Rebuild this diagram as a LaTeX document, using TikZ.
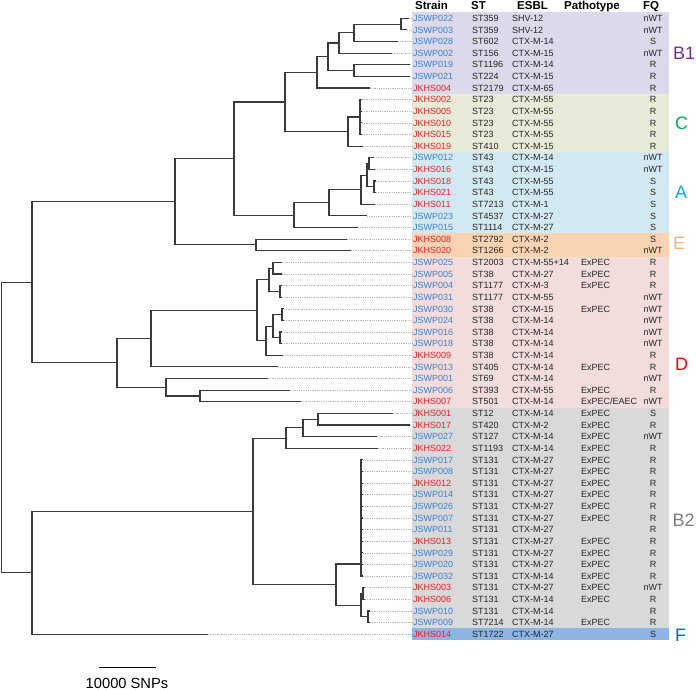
\documentclass[tikz,border=0pt]{standalone}
\usepackage{fontspec}
\setmainfont{Liberation Sans}
\usetikzlibrary{calc}
\definecolor{treec}{HTML}{3A3A3A}
\definecolor{txt}{HTML}{262626}
\definecolor{sb}{HTML}{3F80D0}
\definecolor{sr}{HTML}{E8222A}
\definecolor{bandB1}{HTML}{DCD9EA}
\definecolor{bandC}{HTML}{E7EBD8}
\definecolor{bandA}{HTML}{D3E9F2}
\definecolor{bandE}{HTML}{FAD3B1}
\definecolor{bandD}{HTML}{F3DCDC}
\definecolor{bandB2}{HTML}{D9D9D9}
\definecolor{bandF}{HTML}{8EB4E3}
\definecolor{cB1}{HTML}{7030A0}
\definecolor{cC}{HTML}{00B050}
\definecolor{cA}{HTML}{00B0F0}
\definecolor{cE}{HTML}{F4B183}
\definecolor{cD}{HTML}{FF0000}
\definecolor{cB2}{HTML}{7F7F7F}
\definecolor{cF}{HTML}{0070C0}
\tikzset{
  tree/.style={draw=treec, line width=1.15pt},
  guide/.style={draw=gray!55, line width=0.6pt, dash pattern=on 0.9pt off 0.9pt},
  cell/.style={inner sep=0pt, anchor=base west, font=\fontsize{9}{9}\selectfont, text=txt},
  fqcell/.style={inner sep=0pt, anchor=base, font=\fontsize{9}{9}\selectfont, text=txt},
  head/.style={inner sep=0pt, anchor=base west, font=\fontsize{11.5}{11.5}\selectfont\bfseries, text=black},
  clade/.style={inner sep=0pt, anchor=west, font=\fontsize{18}{18}\selectfont},
}
\newcommand{\tnode}[4]{\path let \p1=($(#3)!0.5!(#4)$) in coordinate (#1) at (#2pt,\y1);}
\begin{document}
\begin{tikzpicture}[x=1pt,y=-1pt]
\path[fill=white] (0,0) rectangle (696,690);
\useasboundingbox (0,0) rectangle (696,690);
% bands
\fill[bandB1] (411.7,12.49) rectangle (669.3,93.83);
\fill[bandC]  (411.7,93.83) rectangle (669.3,151.93);
\fill[bandA]  (411.7,151.93) rectangle (669.3,233.27);
\fill[bandE]  (411.7,233.27) rectangle (669.3,256.51);
\fill[bandD]  (411.7,256.51) rectangle (669.3,407.57);
\fill[bandB2] (411.7,407.57) rectangle (669.3,628.35);
\fill[bandF]  (411.7,628.35) rectangle (669.3,639.97);
% headers
\node[head] (hStrain) at (415,9.5) {Strain};
\node[head] (hST) at (471,9.5) {ST};
\node[head] (hESBL) at (517,9.5) {ESBL};
\node[head] (hPath) at (564,9.5) {Pathotype};
\node[head] (hFQ) at (643,9.5) {FQ};
\coordinate (gx) at (411.7,0);
% rows
\foreach \i/\lx/\s/\sc/\st/\es/\pa/\fq in {
0/409/JSWP022/sb/ST359/SHV-12//nWT,
1/407/JSWP003/sb/ST359/SHV-12//nWT,
2/398/JSWP028/sb/ST602/CTX-M-14//S,
3/392/JSWP002/sb/ST156/CTX-M-15//nWT,
4/410/JSWP019/sb/ST1196/CTX-M-14//R,
5/410/JSWP021/sb/ST224/CTX-M-15//R,
6/370/JKHS004/sr/ST2179/CTX-M-65//R,
7/362/JKHS002/sr/ST23/CTX-M-55//R,
8/362/JKHS005/sr/ST23/CTX-M-55//R,
9/362/JKHS010/sr/ST23/CTX-M-55//R,
10/362/JKHS015/sr/ST23/CTX-M-55//R,
11/363/JKHS019/sr/ST410/CTX-M-15//R,
12/374/JSWP012/sb/ST43/CTX-M-14//nWT,
13/375/JKHS016/sr/ST43/CTX-M-15//nWT,
14/376/JKHS018/sr/ST43/CTX-M-55//S,
15/376/JKHS021/sr/ST43/CTX-M-55//S,
16/375/JKHS011/sr/ST7213/CTX-M-1//S,
17/367/JSWP023/sb/ST4537/CTX-M-27//S,
18/358/JSWP015/sb/ST1114/CTX-M-27//S,
19/347/JKHS008/sr/ST2792/CTX-M-2//S,
20/351/JKHS020/sr/ST1266/CTX-M-2//nWT,
21/282/JSWP025/sb/ST2003/CTX-M-55+14/ExPEC/R,
22/282/JSWP005/sb/ST38/CTX-M-27/ExPEC/R,
23/282/JSWP004/sb/ST1177/CTX-M-3/ExPEC/R,
24/282/JSWP031/sb/ST1177/CTX-M-55//nWT,
25/284/JSWP030/sb/ST38/CTX-M-15/ExPEC/nWT,
26/284/JSWP024/sb/ST38/CTX-M-14//nWT,
27/282/JSWP016/sb/ST38/CTX-M-14//nWT,
28/282/JSWP018/sb/ST38/CTX-M-14//nWT,
29/283/JKHS009/sr/ST38/CTX-M-14//R,
30/278/JSWP013/sb/ST405/CTX-M-14/ExPEC/R,
31/268/JSWP001/sb/ST69/CTX-M-14//nWT,
32/290/JSWP006/sb/ST393/CTX-M-55/ExPEC/R,
33/301/JKHS007/sr/ST501/CTX-M-14/{ExPEC/EAEC}/nWT,
34/393/JKHS001/sr/ST12/CTX-M-14/ExPEC/S,
35/410/JKHS017/sr/ST420/CTX-M-2/ExPEC/R,
36/377/JSWP027/sb/ST127/CTX-M-14/ExPEC/nWT,
37/378/JKHS022/sr/ST1193/CTX-M-14/ExPEC/R,
38/363/JSWP017/sb/ST131/CTX-M-27/ExPEC/R,
39/363/JSWP008/sb/ST131/CTX-M-27/ExPEC/R,
40/363/JKHS012/sr/ST131/CTX-M-27/ExPEC/R,
41/363/JSWP014/sb/ST131/CTX-M-27/ExPEC/R,
42/363/JSWP026/sb/ST131/CTX-M-27/ExPEC/R,
43/363/JSWP007/sb/ST131/CTX-M-27/ExPEC/R,
44/363/JSWP011/sb/ST131/CTX-M-27//R,
45/363/JKHS013/sr/ST131/CTX-M-27/ExPEC/R,
46/363/JSWP029/sb/ST131/CTX-M-27/ExPEC/R,
47/363/JSWP020/sb/ST131/CTX-M-27/ExPEC/R,
48/363/JSWP032/sb/ST131/CTX-M-14/ExPEC/R,
49/365/JKHS003/sr/ST131/CTX-M-27/ExPEC/nWT,
50/365/JKHS006/sr/ST131/CTX-M-14/ExPEC/R,
51/370/JSWP010/sb/ST131/CTX-M-14//R,
52/370/JSWP009/sb/ST7214/CTX-M-14/ExPEC/R,
53/208/JKHS014/sr/ST1722/CTX-M-27//S}{
  \pgfmathsetmacro\yy{18.3+11.62*\i}
  \coordinate (L\i) at (\lx,\yy);
  \draw[guide] (L\i) -- (L\i -| gx);
  \node[cell,text=\sc] (s\i) at (413,\yy+3.2) {\s};
  \node[cell] (t\i) at (472,\yy+3.2) {\st};
  \node[cell] (e\i) at (512,\yy+3.2) {\es};
  \node[cell] (p\i) at (581,\yy+3.2) {\pa};
  \node[fqcell] (f\i) at (653,\yy+3.2) {\fq};
}
% internal tree nodes
\tnode{nB1a}{401}{L0}{L1}
\tnode{nB1b}{354}{nB1a}{L2}
\tnode{nB1c}{339}{nB1b}{L3}
\tnode{nB1d}{354}{L4}{L5}
\tnode{nB1e}{328}{nB1c}{nB1d}
\tnode{nB1}{317}{nB1e}{L6}
\tnode{nC1}{360}{L7}{L10}
\tnode{nC}{348}{nC1}{L11}
\tnode{nBC}{285}{nB1}{nC}
\tnode{nA1}{369}{L12}{L13}
\tnode{nA2}{374}{L14}{L15}
\tnode{nA3}{367}{nA1}{nA2}
\tnode{nA4}{361}{nA3}{L16}
\tnode{nA5}{329}{nA4}{L17}
\tnode{nA}{294}{nA5}{L18}
\tnode{nX3}{234}{nBC}{nA}
\tnode{nE}{256}{L19}{L20}
\tnode{nX2}{175}{nX3}{nE}
\tnode{nD1}{273}{L21}{L22}
\tnode{nD2}{280}{L23}{L24}
\tnode{nD3}{269}{nD1}{nD2}
\tnode{nD4}{282}{L25}{L26}
\tnode{nD5}{280}{L27}{L28}
\tnode{nD6}{273}{nD4}{nD5}
\tnode{nD7}{266}{nD6}{L29}
\tnode{nD8}{257}{nD3}{nD7}
\tnode{nD9}{151}{nD8}{L30}
\tnode{nD10}{200}{L32}{L33}
\tnode{nD11}{166}{L31}{nD10}
\tnode{nD}{117}{nD9}{nD11}
\tnode{nX1}{32}{nX2}{nD}
\tnode{nB2a}{318}{L34}{L35}
\tnode{nB2b}{303}{nB2a}{L36}
\tnode{nB2c}{286}{nB2b}{L37}
\coordinate (nST) at (361,564);
\tnode{nB2d}{363}{L49}{L50}
\tnode{nB2e}{368}{L51}{L52}
\tnode{nB2f}{361}{nB2d}{nB2e}
\tnode{nB2g}{336}{nST}{nB2f}
\tnode{nB2}{253}{nB2c}{nB2g}
\tnode{nY}{32}{nB2}{L53}
\tnode{nR}{1.5}{nX1}{nY}
% edges
\foreach \p/\c in {nB1a/L0,nB1a/L1,nB1b/nB1a,nB1b/L2,nB1c/nB1b,nB1c/L3,
  nB1d/L4,nB1d/L5,nB1e/nB1c,nB1e/nB1d,nB1/nB1e,nB1/L6,
  nC1/L7,nC1/L8,nC1/L9,nC1/L10,nC/nC1,nC/L11,nBC/nB1,nBC/nC,
  nA1/L12,nA1/L13,nA2/L14,nA2/L15,nA3/nA1,nA3/nA2,nA4/nA3,nA4/L16,
  nA5/nA4,nA5/L17,nA/nA5,nA/L18,nX3/nBC,nX3/nA,nE/L19,nE/L20,
  nX2/nX3,nX2/nE,
  nD1/L21,nD1/L22,nD2/L23,nD2/L24,nD3/nD1,nD3/nD2,nD4/L25,nD4/L26,
  nD5/L27,nD5/L28,nD6/nD4,nD6/nD5,nD7/nD6,nD7/L29,nD8/nD3,nD8/nD7,
  nD9/nD8,nD9/L30,nD10/L32,nD10/L33,nD11/L31,nD11/nD10,nD/nD9,nD/nD11,
  nX1/nX2,nX1/nD,
  nB2a/L34,nB2a/L35,nB2b/nB2a,nB2b/L36,nB2c/nB2b,nB2c/L37,
  nST/L38,nST/L39,nST/L40,nST/L41,nST/L42,nST/L43,nST/L44,nST/L45,
  nST/L46,nST/L47,nST/L48,
  nB2d/L49,nB2d/L50,nB2e/L51,nB2e/L52,nB2f/nB2d,nB2f/nB2e,
  nB2g/nST,nB2g/nB2f,nB2/nB2c,nB2/nB2g,nY/nB2,nY/L53,nR/nX1,nR/nY}{
  \draw[tree] (\p) |- (\c);
}
% clade labels
\node[clade,text=cB1] (lB1) at (673,53) {B1};
\node[clade,text=cC] (lC) at (675,123) {C};
\node[clade,text=cA] (lA) at (675,192) {A};
\node[clade,text=cE] (lE) at (673,243) {E};
\node[clade,text=cD] (lD) at (675,364) {D};
\node[clade,text=cB2] (lB2) at (672.5,520) {B2};
\node[clade,text=cF] (lF) at (675,635) {F};
% scale bar
\coordinate (sb1) at (99,667.7);
\coordinate (sb2) at (156,667.7);
\draw[black, line width=1.2pt] (sb1) -- (sb2);
\node[inner sep=0pt, anchor=base, font=\fontsize{14.7}{14.7}\selectfont] (sbl) at (127,688.3) {10000 SNPs};
\end{tikzpicture}
\end{document}
